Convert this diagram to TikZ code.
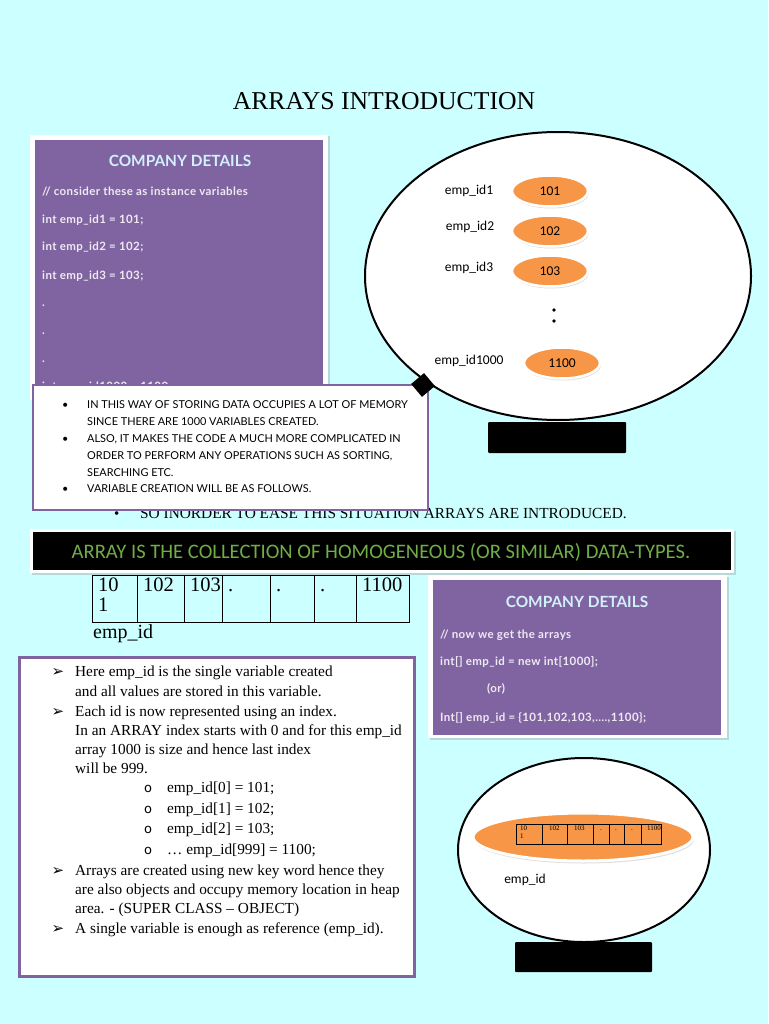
\documentclass[tikz,border=0pt]{standalone}
\usepackage{fontspec}
\setmainfont{Liberation Serif}
\newfontfamily\lato{Lato}
\newfontfamily\latosp[LetterSpace=3.5]{Lato}
\newfontfamily\carl{Carlito}
\newfontfamily\dejavu{DejaVu Sans}
\usetikzlibrary{shapes.geometric,shadows}
\definecolor{bgc}{RGB}{204,255,255}
\definecolor{purp}{RGB}{128,100,162}
\definecolor{orng}{RGB}{247,150,70}
\definecolor{ttlc}{RGB}{210,240,250}
\definecolor{codec}{RGB}{238,234,242}
\definecolor{grn}{RGB}{112,173,71}
\tikzset{
  ttl/.style={font=\lato\bfseries\fontsize{15.4}{15.4}\selectfont, text=ttlc},
  code/.style={anchor=base west, inner sep=0, font=\latosp\bfseries\fontsize{11.5}{11.5}\selectfont, text=codec},
  caps/.style={anchor=base west, inner sep=0, font=\lato\fontsize{10.9}{10.9}\selectfont},
  serif/.style={anchor=base west, inner sep=0, font=\fontsize{15.3}{15.3}\selectfont},
  lbl/.style={inner sep=0, font=\carl\fontsize{13.5}{13.5}\selectfont},
  bub/.style={ellipse, fill=orng, draw=white, line width=2.5pt, inner sep=0,
    minimum width=76pt, minimum height=31pt, font=\carl\fontsize{13.5}{13.5}\selectfont,
    drop shadow={opacity=0.25, shadow xshift=1pt, shadow yshift=-2pt}},
  panel/.style={fill=white, drop shadow={opacity=0.3, shadow xshift=1.5pt, shadow yshift=-1.5pt}},
  tcell/.style={anchor=base west, inner sep=0, font=\fontsize{20.5}{20.5}\selectfont},
  scell/.style={anchor=base west, inner sep=0, font=\fontsize{7}{7}\selectfont},
}
\begin{document}
\begin{tikzpicture}[x=1pt,y=-1pt]
\path[fill=bgc] (0,0) rectangle (768,1024);
\useasboundingbox (0,0) rectangle (768,1024);

% title
\node[font=\fontsize{25.7}{25.7}\selectfont, inner sep=0] (title) at (384,101) {ARRAYS INTRODUCTION};

% ---------- purple box 1
\path[panel] (30,135) rectangle (328,400);
\fill[purp] (35,140) rectangle (323,396);
\node[ttl] (cd1) at (180,161) {COMPANY DETAILS};
\node[code] (c1) at (42,196) {// consider these as instance variables};
\node[code] (c2) at (42,224) {int emp\_id1 = 101;};
\node[code] (c3) at (42,251) {int emp\_id2 = 102;};
\node[code] (c4) at (42,279) {int emp\_id3 = 103;};
\node[code] (c5) at (42,306) {.};
\node[code] (c6) at (42,334) {.};
\node[code] (c7) at (42,362) {.};
\node[code] (c8) at (42,390) {int emp\_id1000 = 1100;};

% ---------- SO INORDER line
\node[anchor=base west, inner sep=0, font=\fontsize{15}{15}\selectfont] (sob) at (114,518) {•};
\node[anchor=base west, inner sep=0, font=\fontsize{15.35}{15.35}\selectfont] (so) at (140,518) {SO INORDER TO EASE THIS SITUATION ARRAYS ARE INTRODUCED.};

% ---------- globe 1
\fill[black, rounded corners=1pt] (488,422) rectangle (626,453);
\node[ellipse, draw=black, fill=white, line width=2pt, minimum width=386pt, minimum height=288pt, inner sep=0] (globe1) at (558,276) {};
\node[lbl] (l1) at (469,191) {emp\_id1};
\node[lbl] (l2) at (470,227) {emp\_id2};
\node[lbl] (l3) at (469,268) {emp\_id3};
\node[lbl] (l4) at (469,361) {emp\_id1000};
\node[bub] (b1) at (550,191) {101};
\node[bub] (b2) at (550,231) {102};
\node[bub] (b3) at (550,271) {103};
\node[bub] (b4) at (562,363) {1100};
\fill (554,310) circle (1.8);
\fill (554,321) circle (1.8);

% ---------- bullet box
\node[draw=purp, fill=white, line width=2pt, anchor=north west, minimum width=395pt, minimum height=125pt, inner sep=0] (bbox) at (32,384) {};
\foreach \yy in {408.7,442.7,492.7}{\node[caps] at (62,\yy) {•};}
\node[caps] (t1) at (87,408.7) {IN THIS WAY OF STORING DATA OCCUPIES A LOT OF MEMORY};
\node[caps] (t2) at (87,425.7) {SINCE THERE ARE 1000 VARIABLES CREATED.};
\node[caps] (t3) at (87,442.7) {ALSO, IT MAKES THE CODE A MUCH MORE COMPLICATED IN};
\node[caps] (t4) at (87,459.7) {ORDER TO PERFORM ANY OPERATIONS SUCH AS SORTING,};
\node[caps] (t5) at (87,476.7) {SEARCHING ETC.};
\node[caps] (t6) at (87,492.7) {VARIABLE CREATION WILL BE AS FOLLOWS.};
\node[diamond, fill=black, minimum size=24pt, inner sep=0, rotate=-5] (dia) at (423,385) {};

% ---------- banner
\path[panel] (30,529) rectangle (734,573);
\fill[black] (33,532) rectangle (731,570);
\node[font=\carl\fontsize{20.6}{20.6}\selectfont, text=grn, inner sep=0] (banner) at (381,552) {ARRAY IS THE COLLECTION OF HOMOGENEOUS (OR SIMILAR) DATA-TYPES.};

% ---------- array table
\foreach \a/\b in {92/137,137/184,184/222,222/270,270/314,314/356,356/409}{
  \draw[line width=0.8pt] (\a,575) rectangle (\b,622);
}
\node[tcell] (a1) at (98,591) {10};
\node[tcell] (a1b) at (98,611) {1};
\node[tcell] (a2) at (143,591) {102};
\node[tcell] (a3) at (190,591) {103};
\node[tcell] (a4) at (228,591) {.};
\node[tcell] (a5) at (276,591) {.};
\node[tcell] (a6) at (320,591) {.};
\node[tcell] (a7) at (362,591) {1100};
\node[anchor=base west, inner sep=0, font=\fontsize{20}{20}\selectfont] (arrlbl) at (93,638) {emp\_id};

% ---------- purple box 2
\path[panel] (428,575) rectangle (727,738);
\fill[purp] (433,580) rectangle (721,735);
\node[ttl] (cd2) at (577,602) {COMPANY DETAILS};
\node[code] (d1) at (440,638) {// now we get the arrays};
\node[code] (d2) at (440,665) {int[] emp\_id = new int[1000];};
\node[code] (d3) at (487,692) {(or)};
\node[code] (d4) at (440,721) {Int[] emp\_id = \{101,102,103,….,1100\};};

% ---------- bottom-left box
\node[draw=purp, fill=white, line width=2.5pt, anchor=north west, minimum width=395pt, minimum height=319pt, inner sep=0] (tbox) at (18,656) {};
\foreach \yy in {676.5,716.5,875.5,933.5}{\node[anchor=base, inner sep=0, font=\dejavu\fontsize{15}{15}\selectfont] at (58,\yy) {➢};}
\foreach \yy in {792.5,813.5,833.5,854.5}{\node[anchor=base, inner sep=0, font=\dejavu\fontsize{13}{13}\selectfont] at (148,\yy) {o};}
\node[serif] (s1) at (75,676.5) {Here emp\_id is the single variable created};
\node[serif] (s2) at (75,696) {and all values are stored in this variable.};
\node[serif] (s3) at (75,716.5) {Each id is now represented using an index.};
\node[serif] (s4) at (75,735.5) {In an ARRAY index starts with 0 and for this emp\_id};
\node[serif] (s5) at (75,754.5) {array 1000 is size and hence last index};
\node[serif] (s6) at (75,773.5) {will be 999.};
\node[serif] (s7) at (167,792.5) {emp\_id[0] = 101;};
\node[serif] (s8) at (167,813.5) {emp\_id[1] = 102;};
\node[serif] (s9) at (167,833.5) {emp\_id[2] = 103;};
\node[serif] (s10) at (167,854.5) {… emp\_id[999] = 1100;};
\node[serif] (s11) at (75,875.5) {Arrays are created using new key word hence they};
\node[serif] (s12) at (75,894.5) {are also objects and occupy memory location in heap};
\node[serif] (s13) at (75,913.5) {area. - (SUPER CLASS – OBJECT)};
\node[serif] (s14) at (75,933.5) {A single variable is enough as reference (emp\_id).};

% ---------- globe 2
\fill[black, rounded corners=1pt] (515,942) rectangle (652,972);
\node[ellipse, draw=black, fill=white, line width=2pt, minimum width=252pt, minimum height=184pt, inner sep=0] (globe2) at (584,850) {};
\node[ellipse, fill=orng, draw=white, line width=3pt, minimum width=220pt, minimum height=48pt, inner sep=0,
  drop shadow={opacity=0.25, shadow xshift=1pt, shadow yshift=-2.5pt}] (arrbub) at (583,837) {};
\foreach \a/\b in {516/542,542/567,567/593,593/609,609/624,624/641,641/661}{
  \draw[line width=0.6pt] (\a,824) rectangle (\b,844);
}
\node[scell] (m1) at (520,830) {10};
\node[scell] (m1b) at (520,838) {1};
\node[scell] (m2) at (549,830) {102};
\node[scell] (m3) at (574,830) {103};
\node[scell] (m4) at (600,830) {.};
\node[scell] (m5) at (615,830) {.};
\node[scell] (m6) at (631,830) {.};
\node[scell] (m7) at (647,830) {1100};
\node[lbl] (g2lbl) at (525,880) {emp\_id};
\end{tikzpicture}
\end{document}
